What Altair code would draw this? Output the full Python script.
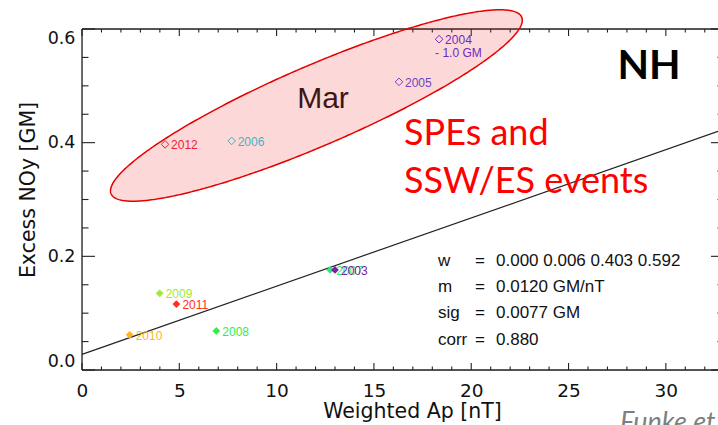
import altair as alt
import numpy as np
import pandas as pd

# ---------------- data ----------------
fill_years = ["2010", "2009", "2011", "2008", "2007", "2003"]
fill_x = [2.45, 3.99, 4.85, 6.90, 12.75, 13.00]
fill_y = [0.062, 0.135, 0.116, 0.0687, 0.176, 0.176]
fill_colors = ["#ffb428", "#a0ec30", "#ff3020", "#2ef040", "#30e878", "#7a20a8"]

open_years = ["2012", "2006", "2005", "2004"]
open_x = [4.27, 7.69, 16.29, 18.35]
open_y = [0.397, 0.403, 0.507, 0.582]
open_colors = ["#f01838", "#10d4e8", "#4c4ce8", "#5028e8"]

fit_slope = 0.0120      # GM/nT
fit_intercept = 0.0276  # GM

stat_names = ["w", "m", "sig", "corr"]
stat_values = ["0.000 0.006 0.403 0.592", "0.0120 GM/nT", "0.0077 GM", "0.880"]

x_labels = [0, 5, 10, 15, 20, 25, 30]
x_minor = [v for v in range(0, 33) if v % 5]
y_labels = [0.0, 0.2, 0.4, 0.6]
y_minor = [0.05, 0.1, 0.15, 0.25, 0.3, 0.35, 0.45, 0.5, 0.55]

# ---------------- layout ----------------
W, H = 636, 341
XMAX, YMAX = 32.68, 0.6
PX_X = W / XMAX
PX_Y = H / YMAX
xs = alt.Scale(domain=[0, XMAX], nice=False, zero=False)
ys = alt.Scale(domain=[0, YMAX], nice=False, zero=False)
AX_FONT = "DejaVu Sans"

x_axis = alt.Axis(
    values=x_labels, ticks=False, domain=False, grid=False, labelFont=AX_FONT,
    labelFontSize=18.5, labelColor="#111", labelPadding=11, labelFlush=False,
    title="Weighted Ap [nT]", titleFont=AX_FONT, titleFontSize=20.5,
    titleFontWeight="normal", titleColor="#111", titleX=330, titleY=47,
    titleBaseline="alphabetic")
y_axis = alt.Axis(
    values=y_labels, format=".1f", ticks=False, domain=False, grid=False,
    labelFont=AX_FONT, labelFontSize=17.5, labelColor="#111", labelPadding=7,
    labelFlush=True, title="Excess NOy [GM]", titleFont=AX_FONT,
    titleFontSize=20.5, titleFontWeight="normal", titleColor="#111",
    titleX=-48, titleY=H / 2 - 10, titleBaseline="alphabetic")


def X(field):
    return alt.X(field, scale=xs, axis=x_axis)


def Y(field):
    return alt.Y(field, scale=ys, axis=y_axis)


# ellipse (centre in data units, axes in pixels)
ell_cx, ell_cy = 12.045, 0.4654
ell_a, ell_b, ell_angle = 223.5, 40.0, 23.3
th = np.deg2rad(ell_angle)
c, s = np.cos(th), np.sin(th)
uext = np.sqrt(ell_a**2 * c * c + ell_b**2 * s * s)
t = np.linspace(0, np.pi, 241)
u = -uext * np.cos(t)
A = s * s / ell_a**2 + c * c / ell_b**2
B = 2 * u * c * s * (1 / ell_a**2 - 1 / ell_b**2)
C = u * u * (c * c / ell_a**2 + s * s / ell_b**2) - 1
disc = np.clip(B * B - 4 * A * C, 0, None)
ell_df = pd.DataFrame({
    "x": ell_cx + u / PX_X,
    "y1": ell_cy + (-B + np.sqrt(disc)) / (2 * A) / PX_Y,
    "y2": ell_cy + (-B - np.sqrt(disc)) / (2 * A) / PX_Y,
})

fill_df = pd.DataFrame({"year": fill_years, "x": fill_x, "y": fill_y})
open_df = pd.DataFrame({"year": open_years, "x": open_x, "y": open_y})
fit_df = pd.DataFrame({"x": [0, XMAX]})
fit_df["y"] = fit_intercept + fit_slope * fit_df["x"]

fill_color = alt.Color("year:N", scale=alt.Scale(domain=fill_years, range=fill_colors), legend=None)
open_color = alt.Color("year:N", scale=alt.Scale(domain=open_years, range=open_colors), legend=None)

# frame lines
frame = alt.Chart(pd.DataFrame({"k": [0]}))
left_line = frame.mark_rule(color="#222", strokeWidth=1.3).encode(
    x=alt.value(0), y=alt.value(0), y2=alt.value(H))
top_line = frame.mark_rule(color="#222", strokeWidth=1.3).encode(
    x=alt.value(0), x2=alt.value(W), y=alt.value(0))
bot_line = frame.mark_rule(color="#222", strokeWidth=1.3).encode(
    x=alt.value(0), x2=alt.value(W), y=alt.value(H))


def xticks(vals, length):
    d = alt.Chart(pd.DataFrame({"v": vals}))
    bot = d.mark_rule(color="#222", strokeWidth=1.1).encode(
        x=X("v:Q"), y=alt.value(H), y2=alt.value(H - length))
    top = d.mark_rule(color="#222", strokeWidth=1.1).encode(
        x=X("v:Q"), y=alt.value(0), y2=alt.value(length))
    return bot + top


def yticks(vals, length):
    d = alt.Chart(pd.DataFrame({"v": vals}))
    lft = d.mark_rule(color="#222", strokeWidth=1.1).encode(
        y=Y("v:Q"), x=alt.value(0), x2=alt.value(length))
    rgt = d.mark_rule(color="#222", strokeWidth=1.1).encode(
        y=Y("v:Q"), x=alt.value(W + 6), x2=alt.value(W + 6 - length))
    return lft + rgt


ticks = xticks(x_labels, 7) + xticks(x_minor, 3.5) + yticks(y_labels, 13) + yticks(y_minor, 6.5)

# fit line
fit = alt.Chart(fit_df).mark_line(color="#222", strokeWidth=1.2).encode(
    x=X("x:Q"), y=Y("y:Q"))

# filled diamonds + labels
fpts = alt.Chart(fill_df).mark_point(shape="diamond", filled=True, size=60, opacity=1).encode(
    x=X("x:Q"), y=Y("y:Q"), color=fill_color)
flab = alt.Chart(fill_df).mark_text(align="left", baseline="middle", dx=6, dy=1,
                                    font="Liberation Sans", fontSize=12).encode(
    x=X("x:Q"), y=Y("y:Q"), text="year:N", color=fill_color)

# open diamonds + labels
opts = alt.Chart(open_df).mark_point(shape="diamond", filled=False, size=58, strokeWidth=1,
                                     opacity=1).encode(
    x=X("x:Q"), y=Y("y:Q"), color=open_color)
olab = alt.Chart(open_df).mark_text(align="left", baseline="middle", dx=6, dy=1,
                                    font="Liberation Sans", fontSize=12).encode(
    x=X("x:Q"), y=Y("y:Q"), text="year:N", color=open_color)
note = alt.Chart(open_df[open_df.year == "2004"]).mark_text(
    align="left", baseline="middle", dx=-4, dy=14, font="Liberation Sans", fontSize=12,
    color="#5028e8").encode(x=X("x:Q"), y=Y("y:Q"), text=alt.value("- 1.0 GM"))


# annotation texts
def txt(text, x, y, **kw):
    return alt.Chart(pd.DataFrame({"t": [text]})).mark_text(**kw).encode(
        text="t:N", x=alt.value(x), y=alt.value(y))


mar = txt("Mar", 241, 79, align="center", baseline="alphabetic",
          font="Liberation Sans", fontSize=30, color="#111")
spe1 = txt("SPEs and", 322, 116, align="left", baseline="alphabetic",
           font="Lato", fontSize=36, color="#ff0000")
spe2 = txt("SSW/ES events", 322, 164, align="left", baseline="alphabetic",
           font="Lato", fontSize=36, color="#ff0000")
nh = txt("NH", 567, 50, align="center", baseline="alphabetic",
         font="Lato", fontSize=41, fontWeight="bold", color="#000")
funke = txt("Funke et al.", 538, 402, align="left", baseline="alphabetic",
            font="Lato", fontSize=27, fontStyle="italic", color="#7f7f7f")

stats = []
for i, (nm, val) in enumerate(zip(stat_names, stat_values)):
    yb = 237 + i * 26.2
    stats.append(txt(nm, 356, yb, align="left", baseline="alphabetic",
                     font="Liberation Sans", fontSize=17, color="#111"))
    stats.append(txt("=", 398, yb, align="center", baseline="alphabetic",
                     font="Liberation Sans", fontSize=17, color="#111"))
    stats.append(txt(val, 414, yb, align="left", baseline="alphabetic",
                     font="Liberation Sans", fontSize=17, color="#111"))

# ellipse overlay (semi-transparent, on top of the March points)
ell = alt.Chart(ell_df).mark_area(fill="#f03030", fillOpacity=0.19, stroke="#e40000",
                                  strokeWidth=1.5).encode(
    x=X("x:Q"), y=Y("y1:Q"), y2="y2:Q")

chart = alt.layer(
    ticks, left_line, top_line, bot_line, fit, fpts, flab, opts, olab, note,
    mar, spe1, spe2, nh, funke, *stats, ell
).resolve_scale(color="independent").properties(
    width=W, height=H,
    autosize=alt.AutoSizeParams(type="none"),
    padding={"left": 82, "top": 29, "right": 0, "bottom": 55},
).configure_view(stroke=None).configure(background="white")

chart.save("out.html", embed_options={"renderer": "svg", "actions": False})
